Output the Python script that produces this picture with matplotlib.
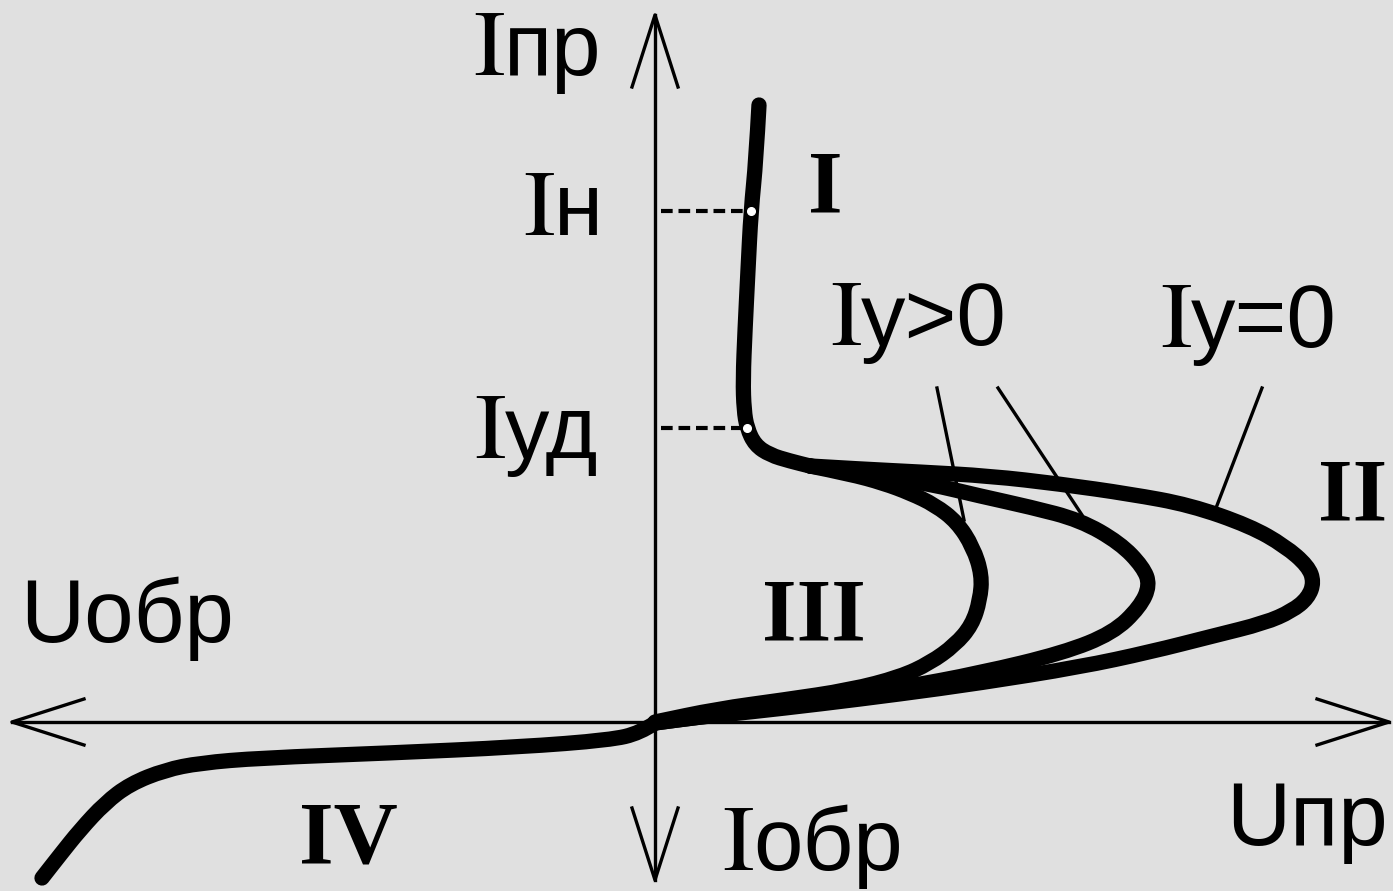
import numpy as np
import matplotlib
matplotlib.use("Agg")
import matplotlib.pyplot as plt
from matplotlib.path import Path
from matplotlib.patches import PathPatch

# curve points (U, I), origin at the axes crossing
upper_u = [104, 101, 96, 93, 90, 88, 89, 92, 100, 115, 135, 155]
upper_i = [617, 562, 511, 452, 392, 342, 312, 294, 277, 267, 261, 256]

outer_u = [155, 205, 265, 335, 405, 475, 535, 595, 630, 653, 659, 653, 637, 610,
           558, 495, 425, 325, 245, 165, 95, 45, 0]
outer_i = [256, 253, 250, 246, 238, 228, 217, 196, 176, 156, 140, 124, 111, 99,
           86, 70, 55, 39, 28, 18, 10, 5, -1]

middle_u = [155, 215, 275, 325, 375, 425, 465, 488, 495, 485, 458, 408, 325, 245,
            165, 95, 45, 0]
middle_i = [256, 248, 238, 226, 215, 202, 179, 155, 137, 115, 89, 69, 49, 34,
            21, 11, 5, -1]

inner_u = [155, 195, 228, 255, 280, 302, 318, 327, 325, 317, 300, 275, 245, 195,
           128, 62, 0]
inner_i = [256, 248, 239, 229, 217, 200, 175, 147, 122, 97, 77, 59, 45, 32,
           22, 13, 0]

reverse_u = [0, -15, -45, -135, -265, -395, -455, -490, -525, -550, -575, -595, -613]
reverse_i = [-1, -11, -18, -25, -31, -36, -41, -48, -62, -81, -108, -133, -156]

# marked points on branch I
mark_u = [96, 92]
mark_i = [511, 294]

# leader lines for the Iу labels
leader_u = [[282, 309], [343, 427], [607, 561]]
leader_i = [[334, 202], [334, 207], [334, 214]]

SERIF = "Liberation Serif"
SANS = "Liberation Sans"
BG = "#e0e0e0"


def smooth_path(xs, ys):
    # quadratic b-spline through midpoints, drawn by matplotlib's path renderer
    pts = np.column_stack([xs, ys]).astype(float)
    verts = [pts[0]]
    codes = [Path.MOVETO]
    for k in range(1, len(pts) - 1):
        mid = (pts[k] + pts[k + 1]) / 2
        verts += [pts[k], mid]
        codes += [Path.CURVE3, Path.CURVE3]
    verts.append(pts[-1])
    codes.append(Path.LINETO)
    return Path(verts, codes)


def draw_curve(ax, xs, ys, lw=11):
    patch = PathPatch(smooth_path(xs, ys), fill=False, lw=lw, ec="black",
                      capstyle="round", joinstyle="round")
    ax.add_patch(patch)


def label_i(ax, x, y, suffix, size=64):
    # serif capital I (stix maths font) followed by sans-serif subscript letters
    ax.text(x + 1, y, r"$\mathrm{I}$", math_fontfamily="stix", fontsize=size + 4,
            ha="right", va="baseline")
    ax.text(x, y, suffix, family=SANS, fontsize=size, ha="left", va="baseline")


fig = plt.figure(figsize=(13.93, 8.91), dpi=100, facecolor=BG)
ax = fig.add_axes([0, 0, 1, 1])
ax.set_facecolor(BG)
ax.set_xlim(-655, 738)
ax.set_ylim(-169, 722)
ax.axis("off")

# axes with open arrow heads
x_left, x_right = -643, 734
y_top, y_bot = 707, -158
head_len, head_w = 72, 23
ax.plot([x_left, x_right], [0, 0], color="black", lw=2.4)
ax.plot([0, 0], [y_bot, y_top], color="black", lw=2.4)
ax.plot([x_left + head_len, x_left, x_left + head_len], [head_w, 0, -head_w], color="black", lw=2.4)
ax.plot([x_right - head_len, x_right, x_right - head_len], [head_w, 0, -head_w], color="black", lw=2.4)
ax.plot([-head_w, 0, head_w], [y_top - head_len, y_top, y_top - head_len], color="black", lw=2.4)
ax.plot([-head_w, 0, head_w], [y_bot + head_len, y_bot, y_bot + head_len], color="black", lw=2.4)

# characteristic branches
draw_curve(ax, upper_u, upper_i)
draw_curve(ax, outer_u, outer_i)
draw_curve(ax, middle_u, middle_i)
draw_curve(ax, inner_u, inner_i)
draw_curve(ax, reverse_u, reverse_i)

# dashed projections and marker dots
for mu, mi in zip(mark_u, mark_i):
    ax.plot([6, mu], [mi, mi], color="black", lw=3, ls=(0, (2.8, 1.4)))
ax.plot(mark_u, mark_i, "o", ms=5.5, mfc="white", mec="white", zorder=5)

for lu, li in zip(leader_u, leader_i):
    ax.plot(lu, li, color="black", lw=2.4)

# labels
label_i(ax, -151, 647, "пр")
label_i(ax, -101, 487, "н")
label_i(ax, -150, 264, "уд")
label_i(ax, 206, 377, "у>0")
label_i(ax, 536, 375, "у=0")
label_i(ax, 98, -148, "обр")
ax.text(571, -123, "Uпр", family=SANS, fontsize=64, ha="left", va="baseline")
ax.text(-635, 80, "Uобр", family=SANS, fontsize=64, ha="left", va="baseline")

roman = dict(family=SERIF, fontsize=64, fontweight="bold", ha="left", va="baseline")
ax.text(153, 510, "I", **roman)
ax.text(663, 202, "II", **roman)
ax.text(107, 82, "III", **roman)
ax.text(-356, -141, "IV", **roman)

fig.savefig("out.png", dpi=100, facecolor=BG)
